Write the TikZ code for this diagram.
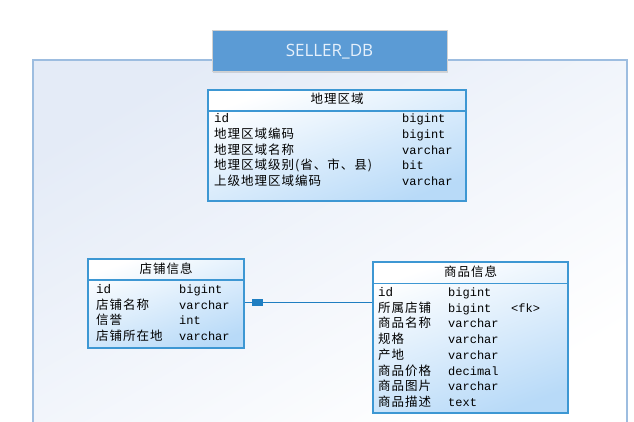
\documentclass[tikz,border=0pt]{standalone}
\usepackage{fontspec}
\setmainfont{Open Sans}
\setmonofont{Liberation Mono}
\newfontfamily\cjk[LetterSpace=8]{Noto Sans CJK SC}
\usetikzlibrary{shadows}
\definecolor{titleblue}{HTML}{5B9BD5}
\definecolor{titletext}{HTML}{E6F0FB}
\definecolor{frameline}{HTML}{9DBDE0}
\definecolor{framefill}{HTML}{E4EBF7}
\definecolor{tblborder}{HTML}{3D97D3}
\definecolor{tblfill}{HTML}{B8DAF8}
\definecolor{linkblue}{HTML}{1F7EC1}
\begin{document}
\begin{tikzpicture}[
        x=1pt,
        y=-1pt,
        frame/.style={draw=frameline, line width=2pt},
        titlebox/.style={fill=titleblue, draw=black!18, line width=1pt, text=titletext,
            font=\fontsize{17}{20}\selectfont, drop shadow={opacity=0.25, shadow xshift=1pt, shadow yshift=-1pt}},
        tbl/.style={draw=tblborder, line width=1.2pt, top color=white, bottom color=tblfill, shading angle=20, inner sep=0pt},
        tblsep/.style={draw=tblborder, line width=1.2pt},
        cell/.style={anchor=west, inner sep=0pt, text height=9.5pt, text depth=2.5pt, text=black,
            font=\cjk\fontsize{12.5}{14}\selectfont},
        kind/.style={cell, font=\ttfamily\fontsize{12}{14}\selectfont},
        link/.style={draw=linkblue, line width=1.2pt}]
\useasboundingbox (0,0) rectangle (634,422);
% database frame
\shade[top color=framefill, bottom color=white, shading angle=30] (33,60) rectangle (627,422);
\draw[frame] (33,422) -- (33,60) -- (627,60) -- (627,422);
\node[titlebox, minimum width=235, minimum height=41] (title) at (329.5,51.5) {SELLER\_DB};
% tables
\node[tbl, minimum width=258, minimum height=111] (geo) at (337,145.5) {};
\node[tbl, minimum width=156, minimum height=89] (shop) at (166,303.5) {};
\node[tbl, minimum width=195, minimum height=151] (goods) at (470.5,337.5) {};
\draw[tblsep] (geo.west |- 0,111) -- (geo.east |- 0,111);
\draw[tblsep] (shop.west |- 0,280) -- (shop.east |- 0,280);
\draw[tblsep] (goods.west |- 0,283.5) -- (goods.east |- 0,283.5);
\node[cell, anchor=center] (geo-head) at (geo.north |- 0,100.5) {地理区域};
\node[cell, anchor=center] (shop-head) at (shop.north |- 0,269.5) {店铺信息};
\node[cell, anchor=center] (goods-head) at (goods.north |- 0,272.5) {商品信息};
\foreach \nm/\ty [count=\i] in {{\ttfamily id}/bigint, 地理区域编码/bigint, 地理区域名称/varchar,
        地理区域级别(省、市、县)/bit, 上级地理区域编码/varchar}{
    \node[cell] (geo-n\i) at (214,103.7+15.65*\i) {\nm};
    \node[kind] (geo-t\i) at (402,103.7+15.65*\i) {\ty};
}
\foreach \nm/\ty [count=\i] in {{\ttfamily id}/bigint, 店铺名称/varchar, 信誉/int, 店铺所在地/varchar}{
    \node[cell] (shop-n\i) at (96,274.4+15.6*\i) {\nm};
    \node[kind] (shop-t\i) at (179,274.4+15.6*\i) {\ty};
}
\foreach \nm/\ty [count=\i] in {{\ttfamily id}/bigint, 所属店铺/bigint, 商品名称/varchar, 规格/varchar,
        产地/varchar, 商品价格/decimal, 商品图片/varchar, 商品描述/text}{
    \node[cell] (goods-n\i) at (378,277.3+15.7*\i) {\nm};
    \node[kind] (goods-t\i) at (448,277.3+15.7*\i) {\ty};
}
\node[kind] (goods-fk) at (511,308.7) {<fk>};
% reference
\coordinate (fk-end) at (shop.east |- 0,302.5);
\draw[link] (fk-end) -- (goods.west |- fk-end);
\fill[linkblue] ([xshift=7pt, yshift=-3.3pt]fk-end) rectangle ([xshift=18pt, yshift=3.3pt]fk-end);
\end{tikzpicture}
\end{document}
